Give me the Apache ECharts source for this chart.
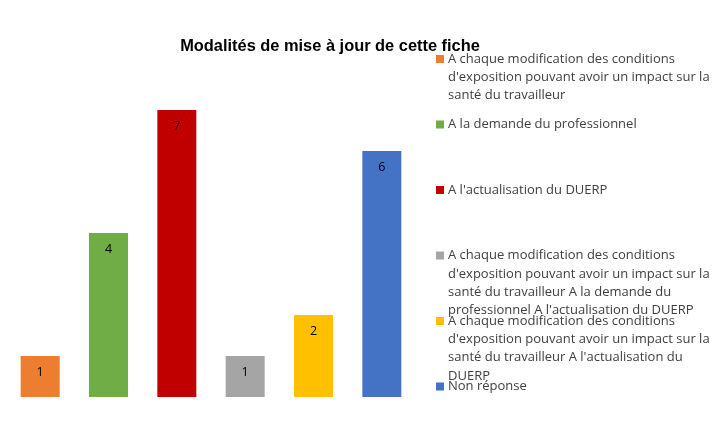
<!DOCTYPE html>
<html>
<head>
<meta charset="utf-8">
<script src="https://cdn.jsdelivr.net/npm/echarts@6/dist/echarts.min.js"></script>
<style>
  html, body { margin: 0; padding: 0; background: #fff; }
  #chart { width: 725px; height: 437px; }
</style>
</head>
<body>
<div id="chart"></div>
<script>
const title = 'Modalités de mise à jour de cette fiche'

const categories = [
  "A chaque modification des conditions d'exposition pouvant avoir un impact sur la santé du travailleur",
  'A la demande du professionnel',
  "A l'actualisation du DUERP",
  "A chaque modification des conditions d'exposition pouvant avoir un impact sur la santé du travailleur A la demande du professionnel A l'actualisation du DUERP",
  "A chaque modification des conditions d'exposition pouvant avoir un impact sur la santé du travailleur A l'actualisation du DUERP",
  'Non réponse',
]
const values = [1, 4, 7, 1, 2, 6]
const colors = ['#ED7D31', '#70AD47', '#C00000', '#A5A5A5', '#FFC000', '#4472C4']

// how the legend text wraps in the original
const legendLines = [
  ['A chaque modification des conditions', "d'exposition pouvant avoir un impact sur la", 'santé du travailleur'],
  ['A la demande du professionnel'],
  ["A l'actualisation du DUERP"],
  ['A chaque modification des conditions', "d'exposition pouvant avoir un impact sur la", 'santé du travailleur A la demande du', "professionnel A l'actualisation du DUERP"],
  ['A chaque modification des conditions', "d'exposition pouvant avoir un impact sur la", "santé du travailleur A l'actualisation du", 'DUERP'],
  ['Non réponse'],
]

const font = '"Open Sans", sans-serif'
const lineH = 18.3
const slot = 65.5
const firstLine = 59

// pad every item to 7 lines so the icon sits on the first line
const padText = (lines) => {
  const out = ['', '', ''].concat(lines)
  while (out.length < 7) out.push('')
  return out.join('\n')
}

const chart = echarts.init(document.getElementById('chart'))

chart.setOption({
  backgroundColor: '#fff',
  animation: false,
  title: {
    text: title,
    left: 325,
    top: 33,
    textAlign: 'center',
    textStyle: { fontFamily: 'Liberation Sans', fontSize: 16.4, fontWeight: 'bold', color: '#000' },
  },
  grid: { left: 6, width: 410, top: 110, bottom: 40 },
  xAxis: { type: 'category', data: categories, show: false },
  yAxis: { type: 'value', min: 0, max: 7, show: false },
  legend: categories.map((c, i) => ({
    data: [c],
    left: 436,
    top: firstLine + i * slot - 3.5 * lineH,
    padding: 0,
    itemWidth: 8,
    itemHeight: 8,
    itemGap: 0,
    selectedMode: false,
    icon: 'rect',
    formatter: () => padText(legendLines[i]),
    textStyle: { fontFamily: font, fontSize: 13, color: '#404040', lineHeight: lineH, padding: [0, 0, 0, -1] },
  })),
  series: categories.map((c, i) => ({
    name: c,
    type: 'bar',
    barWidth: 39,
    barGap: '-100%',
    data: values.map((v, j) => (j === i ? v : '-')),
    itemStyle: { color: colors[i] },
    label: {
      show: true,
      position: 'insideTop',
      distance: 10,
      color: '#000',
      fontFamily: font,
      fontSize: 12.5,
    },
  })),
})
</script>
</body>
</html>
